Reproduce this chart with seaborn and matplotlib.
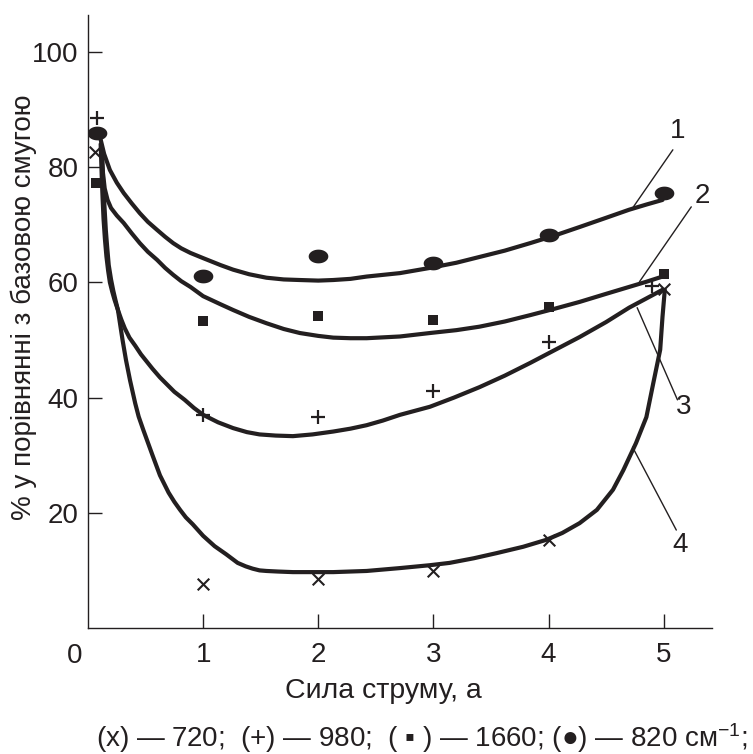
import numpy as np
import pandas as pd
import matplotlib
matplotlib.use("Agg")
import matplotlib.pyplot as plt
from matplotlib.path import Path
import seaborn as sns

# ---------------- data ----------------
# measured points: current (A) vs % relative to base band
x_720 = [0.06, 1, 2, 3, 4, 5]
y_720 = [82.6, 7.6, 8.5, 9.9, 15.3, 58.9]

x_980 = [0.08, 1, 2, 3, 4, 4.9]
y_980 = [88.5, 37.0, 36.6, 41.1, 49.7, 59.4]

x_1660 = [0.07, 1, 2, 3, 4, 5]
y_1660 = [77.3, 53.3, 54.2, 53.5, 55.7, 61.5]

x_820 = [0.08, 1, 2, 3, 4, 5]
y_820 = [85.9, 61.1, 64.6, 63.4, 68.2, 75.5]

# hand-drawn trend curves
c1_x = [0.10, 0.14, 0.19, 0.25, 0.31, 0.38, 0.45, 0.52, 0.60, 0.67, 0.74, 0.81,
        0.89, 1.00, 1.15, 1.26, 1.40, 1.55, 1.70, 1.84, 2.00, 2.13, 2.28, 2.42,
        2.71, 2.97, 3.20, 3.40, 3.62, 3.84, 4.05, 4.27, 4.50, 4.70, 4.85, 4.99]
c1_y = [85.6, 82.3, 79.5, 77.3, 75.5, 73.7, 72.0, 70.5, 69.1, 67.9, 66.8, 65.9,
        65.1, 64.2, 63.0, 62.2, 61.4, 60.8, 60.5, 60.4, 60.3, 60.4, 60.6, 61.0,
        61.6, 62.5, 63.4, 64.4, 65.5, 66.8, 68.1, 69.6, 71.2, 72.6, 73.5, 74.3]

c2_x = [0.12, 0.13, 0.145, 0.17, 0.20, 0.25, 0.31, 0.38, 0.45, 0.52, 0.60, 0.67,
        0.74, 0.81, 0.89, 1.00, 1.15, 1.26, 1.40, 1.55, 1.70, 1.84, 2.00, 2.13,
        2.28, 2.42, 2.71, 2.97, 3.20, 3.40, 3.62, 3.84, 4.05, 4.27, 4.50, 4.70,
        4.85, 4.99]
c2_y = [82.0, 79.0, 76.3, 74.3, 72.9, 71.6, 70.3, 68.5, 66.8, 65.3, 63.9, 62.5,
        61.3, 60.2, 59.2, 57.6, 56.2, 55.2, 54.0, 52.9, 51.9, 51.2, 50.7, 50.4,
        50.3, 50.3, 50.6, 51.2, 51.7, 52.3, 53.2, 54.3, 55.4, 56.6, 58.0, 59.2,
        60.1, 61.0]

c3_x = [0.11, 0.115, 0.12, 0.127, 0.135, 0.147, 0.16, 0.175, 0.19, 0.21, 0.23,
        0.26, 0.29, 0.32, 0.36, 0.41, 0.46, 0.50, 0.56, 0.625, 0.69, 0.75, 0.84,
        0.92, 1.00, 1.13, 1.26, 1.38, 1.49, 1.63, 1.78, 1.95, 2.13, 2.28, 2.42,
        2.56, 2.71, 2.84, 2.97, 3.18, 3.40, 3.62, 3.84, 4.05, 4.27, 4.50, 4.70,
        4.85, 4.99]
c3_y = [84.0, 81.0, 78.0, 74.5, 71.0, 67.5, 64.5, 62.0, 60.0, 58.4, 57.0,
        55.2, 53.5, 52.0, 50.4, 49.0, 47.5, 46.5, 45.0, 43.5, 42.2, 41.0, 39.6,
        38.2, 37.0, 35.7, 34.7, 34.0, 33.6, 33.4, 33.3, 33.6, 34.1, 34.6, 35.2,
        36.0, 37.0, 37.7, 38.4, 40.0, 41.8, 43.8, 46.0, 48.2, 50.5, 53.1, 55.6,
        57.2, 58.7]

c4_x = [0.12, 0.127, 0.135, 0.145, 0.155, 0.167, 0.18, 0.20, 0.22, 0.24, 0.26,
        0.28, 0.30, 0.33, 0.365, 0.41, 0.44, 0.48, 0.52, 0.56, 0.625, 0.70, 0.75,
        0.80, 0.85, 0.91, 1.00, 1.10, 1.20, 1.30, 1.37, 1.43, 1.49, 1.55, 1.65,
        1.78, 1.95, 2.13, 2.42, 2.71, 2.97, 3.14, 3.35, 3.55, 3.78, 3.98, 4.12,
        4.27, 4.42, 4.56, 4.65, 4.76, 4.85, 4.91, 4.97, 4.99, 5.01]
c4_y = [83.0, 79.5, 76.0, 72.5, 69.0, 66.0, 63.0, 60.5, 58.5, 56.8, 55.2,
        52.6, 50.0, 46.5, 43.0, 39.0, 36.7, 34.4, 32.2, 30.0, 26.5, 23.5, 21.9,
        20.5, 19.2, 18.0, 16.0, 14.2, 12.8, 11.3, 10.7, 10.3, 10.0, 9.9, 9.8,
        9.7, 9.7, 9.7, 9.9, 10.4, 10.9, 11.3, 12.1, 13.0, 14.1, 15.3, 16.5,
        18.2, 20.5, 24.0, 27.4, 32.1, 36.6, 42.5, 48.3, 54.0, 58.7]

curve_labels = ["1", "2", "3", "4"]
leader_start = [(4.72, 72.6), (4.79, 60.1), (4.77, 55.6), (4.73, 31.4)]
leader_end = [(5.08, 83.0), (5.24, 73.1), (5.12, 39.6), (5.11, 17.0)]
label_pos = [(5.12, 86.3), (5.34, 75.0), (5.17, 38.3), (5.14, 14.4)]

y_ticks = [20, 40, 60, 80, 100]
x_ticks = [1, 2, 3, 4, 5]

x_title = "Сила струму, а"
y_title = "% у порівнянні з базовою смугою"
caption = "(x) — 720;  (+) — 980;  ( ▪ ) — 1660; (●) — 820 см$^{-1}$;"

# ---------------- style ----------------
sns.set_style("ticks")
plt.rcParams["font.family"] = ["Liberation Sans", "DejaVu Sans"]
plt.rcParams["mathtext.fontset"] = "custom"
plt.rcParams["mathtext.rm"] = "Liberation Sans"
plt.rcParams["mathtext.it"] = "Liberation Sans"
plt.rcParams["mathtext.default"] = "rm"

INK = "#231f20"

fig = plt.figure(figsize=(7.53, 7.54), dpi=100)
ax = fig.add_axes([88 / 753, 1 - 628 / 754, (712 - 88) / 753, (628 - 15) / 754])

# curves
for cx, cy in [(c1_x, c1_y), (c2_x, c2_y), (c3_x, c3_y), (c4_x, c4_y)]:
    sns.lineplot(x=cx, y=cy, ax=ax, sort=False, estimator=None, color=INK,
                 linewidth=3.0, solid_capstyle="round", solid_joinstyle="round")

# markers
t = np.linspace(0, 2 * np.pi, 60)
ellipse = Path(np.column_stack([np.cos(t), 0.70 * np.sin(t)]), closed=True)

sns.scatterplot(x=x_820, y=y_820, ax=ax, marker=ellipse, s=200, color=INK,
                edgecolor=INK, linewidth=0, zorder=5)
sns.scatterplot(x=x_1660, y=y_1660, ax=ax, marker="s", s=60, color=INK,
                edgecolor=INK, linewidth=0, zorder=5)
sns.scatterplot(x=x_980, y=y_980, ax=ax, marker="+", s=110, color=INK,
                linewidth=1.6, zorder=5)
sns.scatterplot(x=x_720, y=y_720, ax=ax, marker="x", s=70, color=INK,
                linewidth=1.5, zorder=5)

# leader lines and curve numbers
for lab, (sx, sy), (ex, ey), (lx, ly) in zip(curve_labels, leader_start,
                                               leader_end, label_pos):
    ax.plot([sx, ex], [sy, ey], color=INK, linewidth=1.0, clip_on=False)
    ax.text(lx, ly, lab, ha="center", va="center", fontsize=20, color=INK,
            clip_on=False)

# axes
ax.set_xlim(0, 5.42)
ax.set_ylim(0, 106.4)
ax.set_xticks(x_ticks)
ax.set_yticks(y_ticks)
ax.set_xticklabels([str(v) for v in x_ticks])
ax.set_yticklabels([str(v) for v in y_ticks])
ax.tick_params(axis="both", direction="in", length=10, width=1.0,
               labelsize=20, colors=INK)
ax.tick_params(axis="y", pad=7)
ax.tick_params(axis="x", pad=10)
ax.text(-0.113, -4.9, "0", ha="center", va="center", fontsize=20, color=INK,
        clip_on=False)

sns.despine(ax=ax)
for sp in ("left", "bottom"):
    ax.spines[sp].set_linewidth(1.0)
    ax.spines[sp].set_color(INK)

ax.set_xlabel(x_title, fontsize=20.5, color=INK)
ax.set_ylabel(y_title, fontsize=20, color=INK)
ax.xaxis.set_label_coords(0.473, -0.082)
ax.yaxis.set_label_coords(-0.082, 0.524)

fig.text(422 / 753, 1 - 738 / 754, caption, ha="center", va="center",
         fontsize=20, color=INK)

fig.savefig("out.png", dpi=100, facecolor="white")
